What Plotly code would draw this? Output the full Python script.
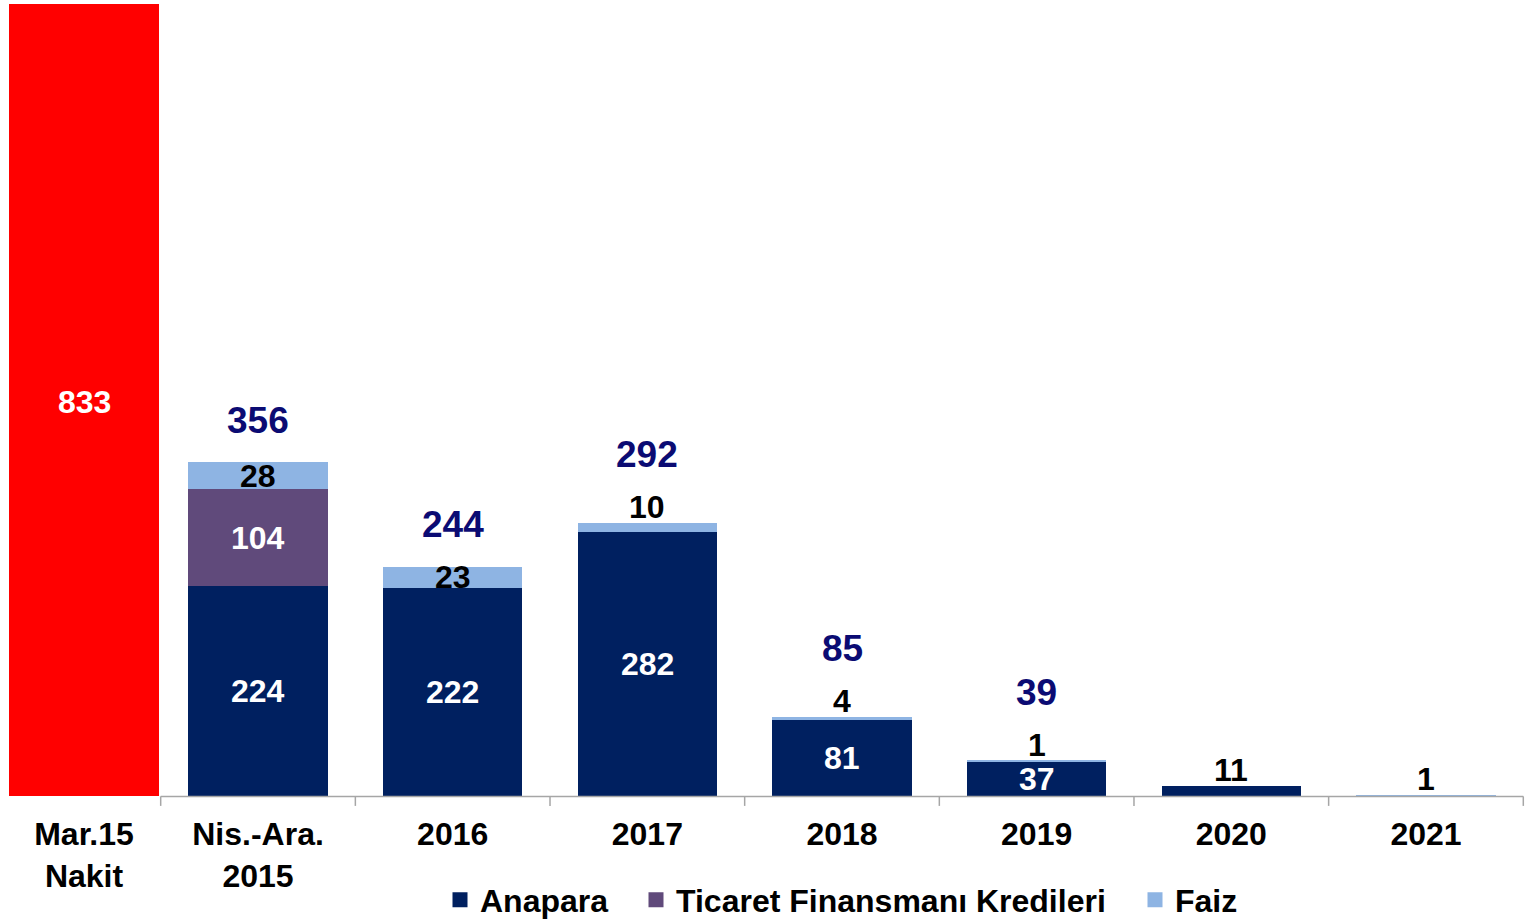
import plotly.graph_objects as go

# Repayment schedule (mn) by period, plus cash position at March 2015
categories = ["Nis.-Ara.<br>2015", "2016", "2017", "2018", "2019", "2020", "2021"]
anapara = [224, 222, 282, 81, 37, 11, 0]
ticaret = [104, 0, 0, 0, 0, 0, 0]
faiz = [28, 23, 10, 4, 1, 0, 1]
totals = [356, 244, 292, 85, 39, None, None]

cash_label = "Mar.15<br>Nakit"
cash_value = 833

series_names = ["Anapara", "Ticaret Finansmanı Kredileri", "Faiz"]

# Styling
NAVY = "#002060"
PURPLE = "#604A7B"
LIGHT = "#8EB4E3"
RED = "#FF0000"
TOTAL_CLR = "#0B0B73"
AXIS_CLR = "#A6A6A6"
FONT = "Liberation Sans, Arial, sans-serif"
LABEL_SIZE = 32
TOTAL_SIZE = 37
W, H = 1527, 920
M_TOP, M_BOT = 4, 112

xs = list(range(1, len(categories) + 1))
cash_x = 0.106          # cash column sits a little right of slot 0
BAR_W = 0.716
CASH_W = 0.771

# The cash column is its own panel with its own value scale
plot_h = H - M_TOP - M_BOT
zero_px = 796.4 - M_TOP          # distance from plot top to the zero line
PX_PER_UNIT = 0.938              # schedule bars
y_range = [-(plot_h - zero_px) / PX_PER_UNIT, zero_px / PX_PER_UNIT]
cash_scale = zero_px / cash_value
y2_range = [-(plot_h - zero_px) / cash_scale, cash_value]

fig = go.Figure()

fig.add_trace(go.Bar(x=[cash_x], y=[cash_value], width=CASH_W, yaxis="y2",
                     marker=dict(color=RED, line=dict(width=0)), showlegend=False))
fig.add_trace(go.Bar(x=xs, y=anapara, width=BAR_W, name=series_names[0],
                     marker=dict(color=NAVY, line=dict(width=0)), showlegend=False))
fig.add_trace(go.Bar(x=xs, y=ticaret, width=BAR_W, name=series_names[1],
                     marker=dict(color=PURPLE, line=dict(width=0)), showlegend=False))
fig.add_trace(go.Bar(x=xs, y=faiz, width=BAR_W, name=series_names[2],
                     marker=dict(color=LIGHT, line=dict(width=0)), showlegend=False))

# One legend per series so each swatch can be placed on its own
legend_ids = ["legend", "legend2", "legend3"]
swatch_centers = [460, 656, 1155]
for nm, clr, lid in zip(series_names, [NAVY, PURPLE, LIGHT], legend_ids):
    fig.add_trace(go.Scatter(x=[None], y=[None], mode="markers", name=nm, legend=lid,
                             marker=dict(symbol="square", size=15, color=clr)))

annotations = []


def label(x, y, text, color, size=LABEL_SIZE, shift=0, yref="y"):
    annotations.append(dict(x=x, y=y, yref=yref, text=text, showarrow=False,
                            yanchor="middle", yshift=shift,
                            font=dict(family=FONT, size=size, color=color, weight="bold")))


label(cash_x, cash_value / 2, str(cash_value), "white", shift=-2, yref="y2")

ABOVE = 16
for i, x in enumerate(xs):
    a, t, f = anapara[i], ticaret[i], faiz[i]
    top = a + t + f
    if a >= 30:
        label(x, a / 2, str(a), "white")
    elif a > 0:
        label(x, top, str(a), "black", shift=ABOVE)
    if t > 0:
        label(x, a + t / 2, str(t), "white")
    faiz_inside = f >= 15
    if faiz_inside:
        label(x, a + t + f / 2, str(f), "black")
    elif f > 0:
        label(x, top, str(f), "black", shift=ABOVE)
    if totals[i] is not None:
        label(x, top, str(totals[i]), TOTAL_CLR, size=TOTAL_SIZE,
              shift=42 if faiz_inside else 68)

# Category axis line with boundary ticks
tick_len = 9.5 / PX_PER_UNIT
shapes = [dict(type="line", xref="x", yref="y", x0=0.5, x1=len(xs) + 0.5, y0=0, y1=0,
               line=dict(color=AXIS_CLR, width=1.5))]
for k in range(len(xs) + 1):
    shapes.append(dict(type="line", xref="x", yref="y", x0=0.5 + k, x1=0.5 + k,
                       y0=0, y1=-tick_len, line=dict(color=AXIS_CLR, width=1.5)))

legend_style = dict(orientation="h", xref="container", xanchor="left",
                    y=1 - 900 / H, yanchor="middle", yref="container",
                    font=dict(family=FONT, size=LABEL_SIZE, color="black", weight="bold"),
                    itemwidth=30, bgcolor="rgba(0,0,0,0)")
legends = {lid: dict(legend_style, x=(cx - 20) / W) for lid, cx in zip(legend_ids, swatch_centers)}

fig.update_layout(
    width=W, height=H,
    margin=dict(l=0, r=0, t=M_TOP, b=M_BOT, autoexpand=False),
    barmode="stack",
    bargap=0,
    plot_bgcolor="white", paper_bgcolor="white",
    font=dict(family=FONT, color="black"),
    annotations=annotations,
    shapes=shapes,
    showlegend=True,
    xaxis=dict(range=[-0.3255, 7.519], tickvals=[cash_x] + xs, ticktext=[cash_label] + categories,
               showgrid=False, zeroline=False, showline=False, ticks="", automargin=False,
               ticklabelstandoff=4,
               tickfont=dict(family=FONT, size=LABEL_SIZE, color="black", weight="bold")),
    yaxis=dict(range=y_range, visible=False, showgrid=False, zeroline=False, automargin=False),
    yaxis2=dict(range=y2_range, visible=False, showgrid=False, zeroline=False,
                overlaying="y", automargin=False),
    **legends,
)

fig.write_html("out.html")
